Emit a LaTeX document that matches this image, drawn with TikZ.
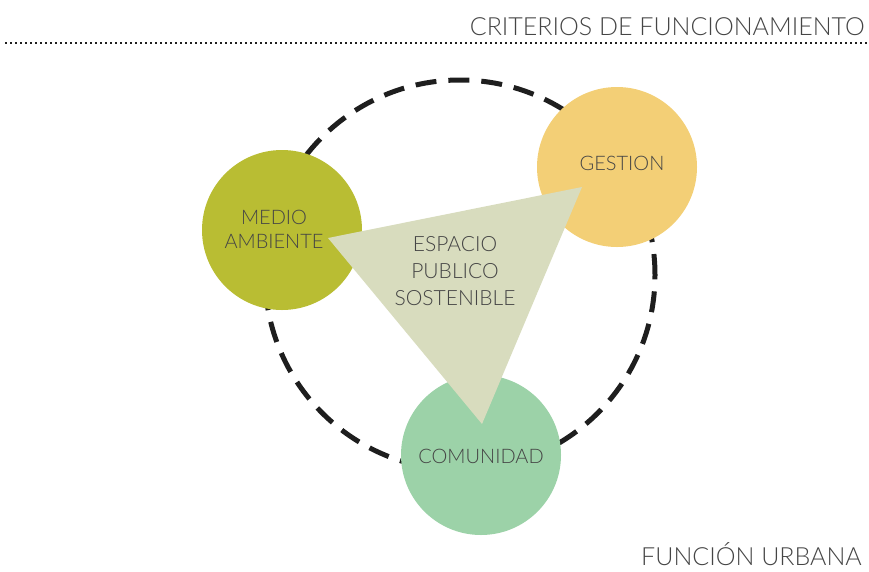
\documentclass[tikz,border=0pt]{standalone}
\usepackage{fontspec}
\setmainfont{Lato}[UprightFont={* Light}]
\definecolor{medioC}{HTML}{B9BD33}
\definecolor{gestionC}{HTML}{F3CF76}
\definecolor{comunC}{HTML}{9CD2A8}
\definecolor{espacioC}{HTML}{D8DCBE}
\definecolor{inkgray}{HTML}{454545}
\definecolor{ringC}{HTML}{1E1E1E}
\tikzset{
  bubble/.style={circle, minimum size=160pt, inner sep=0pt},
  label/.style={text=inkgray, align=center, font=\fontsize{20}{24}\selectfont},
  ring/.style={ringC, line width=5pt, dash pattern=on 21pt off 12pt},
  title/.style={anchor=base east, text=inkgray, font=\fontsize{25}{25}\selectfont},
}
\begin{document}
\begin{tikzpicture}[x=1pt, y=-1pt, every node/.style={inner sep=0pt}]

\useasboundingbox (0,0) rectangle (869,571);

% heading with dotted rule
\node[title] (head) at (865,35) {CRITERIOS DE FUNCIONAMIENTO};
\draw[ringC, line width=2pt, dash pattern=on 2pt off 3pt] (5,43) -- (869,43);

% dashed ring behind the bubbles
\draw[ring] (460,275) circle (195pt);

% the three bubbles
\node[bubble, fill=medioC] (medio) at (282,230) {};
\node[bubble, fill=gestionC] (gestion) at (617,167) {};
\node[bubble, fill=comunC] (comun) at (481,455) {};

% central triangle
\fill[espacioC] (328,238) -- (582,187) -- (482,424) -- cycle;

% labels
\node[label] (medioL) at (274,229) {MEDIO\\AMBIENTE};
\node[label] (gestionL) at (622,163) {GESTION};
\node[label] (comunL) at (481,456) {COMUNIDAD};
\node[label, font=\fontsize{21}{27}\selectfont] (espacio) at (455,271) {ESPACIO\\PUBLICO\\SOSTENIBLE};

% footer
\node[title] (foot) at (862,565) {FUNCIÓN URBANA};

\end{tikzpicture}
\end{document}
